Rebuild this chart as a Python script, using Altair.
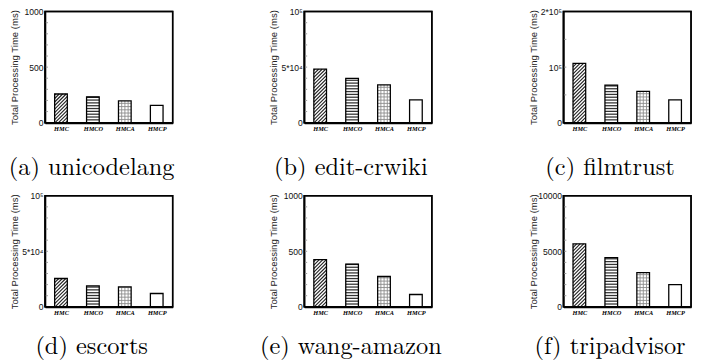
import json
import altair as alt
import pandas as pd

# ---------------- data ----------------
CATEGORIES = ["HMC", "HMCO", "HMCA", "HMCP"]
CAPTIONS = ["(a) unicodelang", "(b) edit-crwiki", "(c) filmtrust",
            "(d) escorts", "(e) wang-amazon", "(f) tripadvisor"]
Y_MAX = [1000, 100000, 200000, 100000, 1000, 10000]
Y_TICK_LABELS = [["0", "500", "1000"],
                 ["0", "5*10⁴", "10⁵"],
                 ["0", "10⁵", "2*10⁵"],
                 ["0", "5*10⁴", "10⁵"],
                 ["0", "500", "1000"],
                 ["0", "5000", "10000"]]
MINOR_STEPS = [100, 10000, 50000, 10000, 100, 1000]

unicodelang = [258, 231, 196, 156]
edit_crwiki = [48100, 39900, 34000, 20500]
filmtrust = [106700, 67400, 56300, 41000]
escorts = [25500, 18800, 17900, 12000]
wang_amazon = [425, 384, 273, 111]
tripadvisor = [5660, 4430, 3080, 1990]
SERIES = [unicodelang, edit_crwiki, filmtrust, escorts, wang_amazon, tripadvisor]

Y_TITLE = "Total Processing Time (ms)"

# ---------------- geometry / style ----------------
PLOT_W, PLOT_H = 131, 114
BAR_PX = 13
X_DOMAIN = [-0.5, 3.5]
PX_PER_IDX = PLOT_W / (X_DOMAIN[1] - X_DOMAIN[0])
HALF = BAR_PX / 2 / PX_PER_IDX
CAPTION_FONT = "Latin Modern Roman, CMU Serif, Noto Serif, DejaVu Serif, serif"
LABEL_SERIF = "Liberation Serif, Tinos, Noto Serif, DejaVu Serif, serif"
SANS = "Liberation Sans, Arial, sans-serif"
CAPTION_OFFSETS = [44, 44, 44, 38.5, 38.5, 38.5]

CAT_EXPR = json.dumps(CATEGORIES) + "[round(datum.value)]"

X_AXIS = alt.Axis(values=[0, 1, 2, 3], labelExpr=CAT_EXPR, ticks=False, grid=False,
                  domain=True, domainColor="black", domainWidth=2,
                  labelFont=LABEL_SERIF, labelFontStyle="italic",
                  labelFontWeight="bold", labelFontSize=6.5, labelColor="black",
                  labelPadding=3)


def X(field):
    return alt.X(field + ":Q", scale=alt.Scale(domain=X_DOMAIN, nice=False, zero=False),
                 axis=X_AXIS, title=None)


def make_y(i):
    ymax = Y_MAX[i]
    lab = json.dumps(Y_TICK_LABELS[i], ensure_ascii=False)
    axis = alt.Axis(values=[0, ymax / 2, ymax],
                    labelExpr=f"{lab}[round(datum.value / {ymax} * 2)]",
                    ticks=False, grid=False, domain=True, domainColor="black",
                    domainWidth=1.6, labelFont=SANS, labelFontSize=8.8,
                    labelColor="#111", labelPadding=2,
                    titleFont=SANS, titleFontSize=9.8,
                    titleFontWeight="normal", titleColor="#222", titlePadding=4,
                    minExtent=22, maxExtent=22)

    def Y(field):
        return alt.Y(field + ":Q", scale=alt.Scale(domain=[0, ymax], nice=False, zero=True),
                     axis=axis, title=Y_TITLE)
    return Y


def panel(i):
    ymax = Y_MAX[i]
    ppu = PLOT_H / ymax  # pixels per data unit
    Y = make_y(i)
    df = pd.DataFrame({"cat": CATEGORIES, "idx": list(range(4)), "value": SERIES[i]})
    base = alt.Chart(df).transform_calculate(
        x0=f"datum.idx - {HALF}", x1=f"datum.idx + {HALF}", z="0")

    fill = base.mark_rect(fill="white", strokeWidth=0).encode(
        x=X("x0"), x2="x1", y=Y("value"), y2="z")

    # HMC: diagonal hatch
    step_c = 3.6
    diag = (base.transform_filter(f"datum.cat == '{CATEGORIES[0]}'")
            .transform_calculate(h=f"datum.value * {ppu}")
            .transform_calculate(cs=f"sequence({-BAR_PX + step_c / 2}, datum.h, {step_c})")
            .transform_flatten(["cs"], as_=["c"])
            .transform_calculate(p0="max(0, -datum.c)",
                                 p1=f"min({BAR_PX}, datum.h - datum.c)")
            .transform_filter("datum.p1 > datum.p0")
            .transform_calculate(
                dx0=f"datum.idx - {HALF} + datum.p0 / {PX_PER_IDX}",
                dx1=f"datum.idx - {HALF} + datum.p1 / {PX_PER_IDX}",
                dy0=f"(datum.p0 + datum.c) / {ppu}",
                dy1=f"(datum.p1 + datum.c) / {ppu}")
            .mark_rule(color="#222222", strokeWidth=1.15)
            .encode(x=X("dx0"), x2="dx1", y=Y("dy0"), y2="dy1"))

    def hlines(cat, s, color, width):
        return (base.transform_filter(f"datum.cat == '{cat}'")
                .transform_calculate(ys=f"sequence({s / ppu}, datum.value, {s / ppu})")
                .transform_flatten(["ys"], as_=["yv"])
                .mark_rule(color=color, strokeWidth=width)
                .encode(x=X("x0"), x2="x1", y=Y("yv")))

    hmco = hlines(CATEGORIES[1], 2.9, "#333333", 1.3)
    hmca_h = hlines(CATEGORIES[2], 3.3, "#8a8a8a", 0.9)

    dx = 3.3 / PX_PER_IDX
    hmca_v = (base.transform_filter(f"datum.cat == '{CATEGORIES[2]}'")
              .transform_calculate(xs=f"sequence(datum.x0 + {dx}, datum.x1 - {dx * 0.3}, {dx})")
              .transform_flatten(["xs"], as_=["xv"])
              .mark_rule(color="#8a8a8a", strokeWidth=0.9)
              .encode(x=X("xv"), y=Y("z"), y2="value"))

    outline = base.mark_rect(fillOpacity=0, stroke="black", strokeWidth=1.3).encode(
        x=X("x0"), x2="x1", y=Y("value"), y2="z")

    step = MINOR_STEPS[i]
    minor = (alt.Chart(alt.sequence(step, ymax, step, as_="t"))
             .transform_calculate(xa=f"{X_DOMAIN[0]}",
                                  xb=f"{X_DOMAIN[0]} + {3 / PX_PER_IDX}")
             .mark_rule(color="#999999", strokeWidth=1)
             .encode(x=X("xa"), x2="xb", y=Y("t")))

    # plot frame along the scale domains
    frame = (alt.Chart(alt.sequence(0, 1, 1, as_="k"))
             .transform_calculate(fx0=f"{X_DOMAIN[0]}", fx1=f"{X_DOMAIN[1]}",
                                  fy0="0", fy1=f"{ymax}")
             .mark_rect(fillOpacity=0, stroke="black", strokeWidth=1.5)
             .encode(x=X("fx0"), x2="fx1", y=Y("fy1"), y2="fy0"))

    title = alt.TitleParams(text=CAPTIONS[i], orient="bottom", frame="bounds",
                            anchor="middle", font=CAPTION_FONT, fontSize=25,
                            fontWeight="normal", color="black", baseline="alphabetic",
                            offset=CAPTION_OFFSETS[i])
    return alt.layer(fill, diag, hmco, hmca_h, hmca_v, outline, minor, frame).properties(
        width=PLOT_W, height=PLOT_H, title=title,
        view=alt.ViewBackground(stroke="black", strokeWidth=1.5, fill="white"))


panels = [panel(i) for i in range(6)]
row1 = alt.hconcat(*panels[:3], spacing=135, bounds="flush")
row2 = alt.hconcat(*panels[3:], spacing=135, bounds="flush")

chart = (alt.vconcat(row1, row2, spacing=10)
         .properties(padding={"left": 0, "top": -6, "right": 0, "bottom": 0},
                     background="white")
         .configure_view(stroke="black", strokeWidth=1.5))

chart.save("out.html", embed_options={"renderer": "svg", "actions": False})
